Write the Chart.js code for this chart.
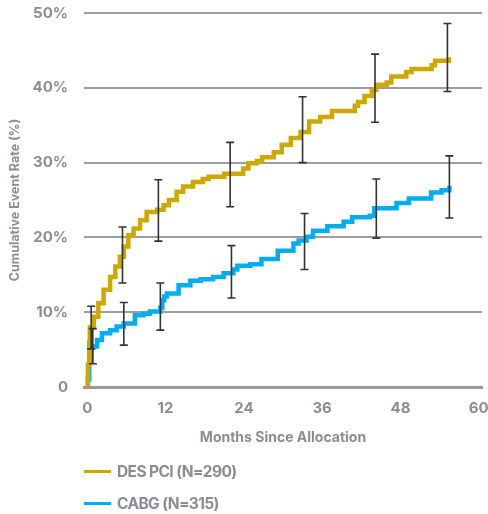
<!DOCTYPE html>
<html><head><meta charset="utf-8">
<script src="https://cdn.jsdelivr.net/npm/chart.js@4/dist/chart.umd.min.js"></script>
<style>
html,body{margin:0;padding:0;background:#fff;}
#wrap{position:relative;width:488px;height:514px;overflow:hidden;}
canvas{position:absolute;left:0;top:0;}
.leg{position:absolute;left:84px;font:700 15.5px Inter, sans-serif;color:#8a8e94;letter-spacing:-0.6px;display:flex;align-items:center;height:18px;white-space:nowrap;}
.leg i{display:inline-block;width:27px;height:3px;margin-right:6px;}
</style></head>
<body><div id="wrap"><canvas id="c" width="488" height="514"></canvas><div id="legend"></div></div>
<script>
const seriesLabels = ['DES PCI (N=290)', 'CABG (N=315)'];
const seriesColors = ['#CDA900', '#00AEEF'];

const desMonths = [0, 0.1, 0.3, 0.4, 1.0, 1.7, 2.5, 3.5, 4.3, 5.0, 5.6, 6.3, 7.1, 8.1, 9.1, 10.7, 11.7, 12.5, 13.7, 14.7, 16.2, 17.7, 18.6, 21.0, 23.9, 24.7, 26.0, 26.8, 28.6, 29.8, 31.2, 32.7, 34.0, 35.7, 37.5, 41.0, 41.5, 42.5, 43.6, 44.3, 45.9, 46.6, 48.9, 49.7, 52.8, 53.3, 55.4];
const desRates  = [0, 3, 6, 8.0, 9.4, 11.2, 13.0, 14.7, 16.1, 17.4, 18.8, 20.3, 21.2, 22.3, 23.4, 23.7, 24.3, 25.0, 26.1, 26.8, 27.4, 27.8, 28.1, 28.5, 29.2, 29.9, 30.2, 30.7, 31.4, 32.4, 33.3, 34.1, 35.5, 36.1, 36.9, 37.6, 38.1, 38.9, 39.7, 40.4, 40.7, 41.5, 42.1, 42.5, 43.0, 43.6, 44.1];

const cabgMonths = [0, 0.1, 0.3, 0.6, 1.5, 2.25, 3.5, 4.5, 5.6, 7.3, 8.6, 9.6, 11.2, 11.5, 11.8, 12.2, 14.0, 15.8, 17.4, 19.3, 20.9, 22.4, 23.0, 25.0, 26.7, 29.2, 31.6, 32.4, 33.6, 34.6, 36.8, 39.3, 40.6, 43.3, 44.0, 47.4, 49.3, 52.7, 54.3, 55.5];
const cabgRates  = [0, 1, 3.5, 5.4, 6.3, 7.2, 7.6, 8.1, 8.5, 9.6, 9.8, 10.1, 10.6, 11.6, 12.1, 12.5, 13.6, 14.2, 14.4, 14.7, 15.2, 15.7, 16.2, 16.4, 17.1, 18.2, 19.2, 19.6, 20.1, 20.9, 21.5, 22.1, 22.7, 22.9, 23.9, 24.6, 25.2, 26.0, 26.3, 26.9];

const desCIMonths = [0.6, 5.4, 10.9, 21.9, 33.0, 44.1, 55.2];
const desCILow    = [5.1, 13.9, 19.5, 24.1, 30.0, 35.4, 39.5];
const desCIHigh   = [10.8, 21.4, 27.7, 32.7, 38.8, 44.5, 48.6];

const cabgCIMonths = [0.85, 5.6, 11.2, 22.1, 33.3, 44.3, 55.5];
const cabgCILow    = [3.1, 5.6, 7.6, 11.9, 15.7, 19.9, 22.6];
const cabgCIHigh   = [7.8, 11.3, 13.9, 18.9, 23.2, 27.8, 30.9];

const xTicks = [0, 12, 24, 36, 48, 60];
const yTicks = [0, 10, 20, 30, 40, 50];

const gray = '#8a8e94';
const fontFamily = 'Inter, "Noto Sans", sans-serif';

function pts(xs, ys){ return xs.map((x,i)=>({x, y: ys[i]})); }

const errorBars = {
  id:'errorBars',
  afterDatasetsDraw(chart){
    const {ctx, scales:{x, y}} = chart;
    ctx.save();
    ctx.strokeStyle = '#333333';
    ctx.lineWidth = 1.6;
    const sets = [[desCIMonths, desCILow, desCIHigh],[cabgCIMonths, cabgCILow, cabgCIHigh]];
    sets.forEach(([ms, lo, hi])=>{
      ms.forEach((m,i)=>{
        const px = x.getPixelForValue(m);
        const pl = y.getPixelForValue(lo[i]);
        const ph = y.getPixelForValue(hi[i]);
        ctx.beginPath();
        ctx.moveTo(px, pl); ctx.lineTo(px, ph);
        ctx.moveTo(px-4, pl); ctx.lineTo(px+4, pl);
        ctx.moveTo(px-4, ph); ctx.lineTo(px+4, ph);
        ctx.stroke();
      });
    });
    ctx.restore();
  }
};

const chart = new Chart(document.getElementById('c'), {
  type:'line',
  data:{
    datasets:[
      {label: seriesLabels[0], data: pts(desMonths, desRates), borderColor: seriesColors[0], borderWidth:4.5, pointRadius:0, stepped:true, fill:false},
      {label: seriesLabels[1], data: pts(cabgMonths, cabgRates), borderColor: seriesColors[1], borderWidth:4.5, pointRadius:0, stepped:true, fill:false}
    ]
  },
  options:{
    responsive:false,
    animation:false,
    devicePixelRatio:1,
    layout:{padding:{left:0, right:6, top:13, bottom:67}},
    plugins:{legend:{display:false}, tooltip:{enabled:false}},
    scales:{
      x:{
        type:'linear', min:-0.5, max:60.5,
        afterBuildTicks(s){ s.ticks = xTicks.map(v=>({value:v})); },
        afterFit(s){ s.height = 60; s.paddingLeft = 0; s.paddingRight = 0; s.paddingTop = 0; s.paddingBottom = 0; },
        grid:{display:false, drawTicks:false},
        border:{display:true, color:'#9a9a9a', width:3},
        ticks:{padding:12, color:gray, font:{family:fontFamily, size:15, weight:'700'}, maxRotation:0},
        title:{display:true, text:'Months Since Allocation', color:gray, padding:{top:0,bottom:1}, font:{family:fontFamily, size:14, weight:'700'}}
      },
      y:{
        min:0, max:50,
        afterBuildTicks(s){ s.ticks = yTicks.map(v=>({value:v})); },
        afterFit(s){ s.width = 84; s.paddingLeft = 0; s.paddingRight = 0; s.paddingTop = 0; s.paddingBottom = 0; },
        grid:{color:'#9e9e9e', lineWidth:2, drawTicks:false},
        border:{display:false},
        ticks:{padding:16, color:gray, font:{family:fontFamily, size:15, weight:'700'}, callback:v=> v===0 ? '0' : v + '%'},
        title:{display:true, text:'Cumulative Event Rate (%)', color:gray, padding:{top:8,bottom:0}, font:{family:fontFamily, size:12.5, weight:'700'}}
      }
    }
  },
  plugins:[errorBars]
});

const legend = document.getElementById('legend');
const legendTops = [462, 494];
chart.data.datasets.forEach((ds,i)=>{
  const d = document.createElement('div');
  d.className = 'leg';
  d.style.top = legendTops[i] + 'px';
  const sw = document.createElement('i');
  sw.style.background = ds.borderColor;
  d.appendChild(sw);
  d.appendChild(document.createTextNode(ds.label));
  legend.appendChild(d);
});
</script>
</body></html>
